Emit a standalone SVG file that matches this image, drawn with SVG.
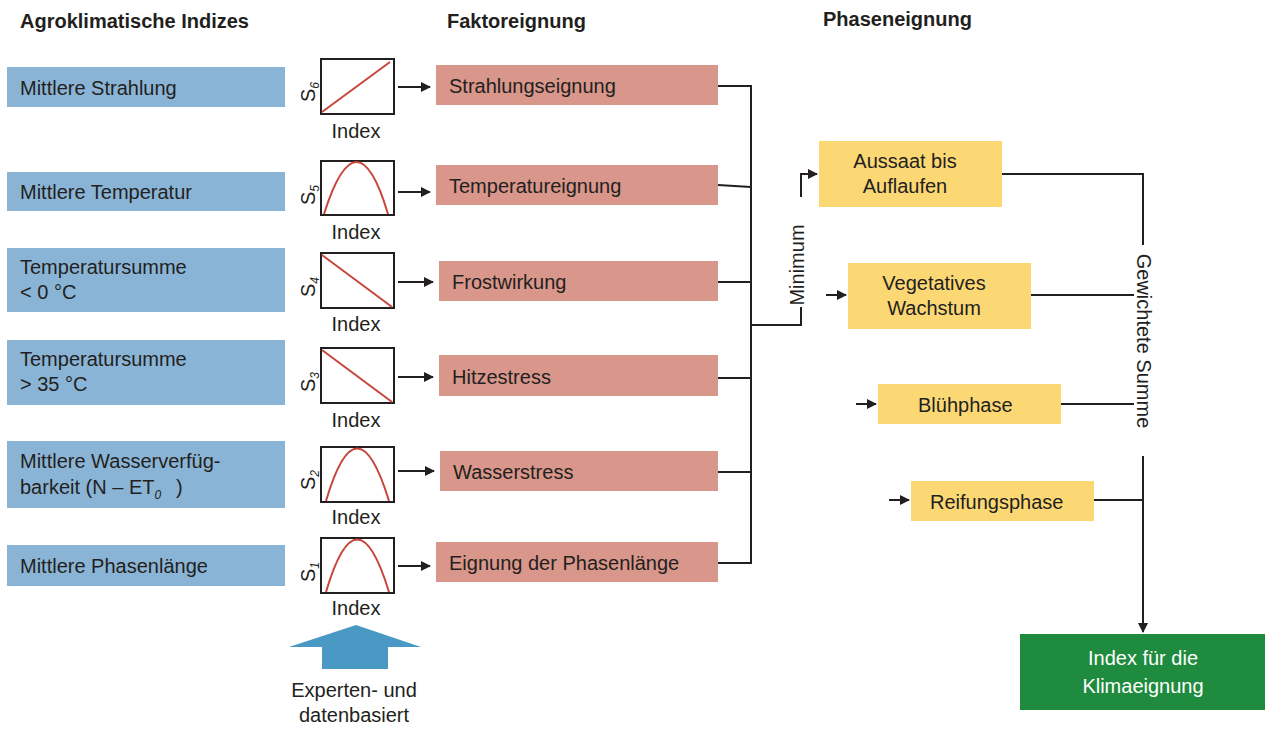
<svg xmlns="http://www.w3.org/2000/svg" width="1265" height="729" viewBox="0 0 1265 729">
<style>
text{font-family:"Liberation Sans",Arial,sans-serif;fill:#231f20;font-size:20px}
.h{font-weight:bold;font-size:20px}
.blue{fill:#8ab4d6}
.red{fill:#d9968a}
.yel{fill:#fcd874}
.chart{fill:#fff;stroke:#231f20;stroke-width:2}
.curve{fill:none;stroke:#c8453a;stroke-width:2}
.ln{fill:none;stroke:#231f20;stroke-width:2}
.idx{text-anchor:middle}
.c{text-anchor:middle}
</style>
<defs>
<marker id="ah" viewBox="0 0 10 10" refX="9" refY="5" markerWidth="10" markerHeight="10" markerUnits="userSpaceOnUse" orient="auto">
<path d="M0,0 L10,5 L0,10 z" fill="#231f20"/>
</marker>
</defs>
<rect width="1265" height="729" fill="#fff"/>
<text class="h" x="20" y="28">Agroklimatische Indizes</text>
<text class="h" x="447" y="28">Faktoreignung</text>
<text class="h" x="823" y="26">Phaseneignung</text>

<g id="in1"><rect class="blue" x="7" y="67" width="278" height="40"/><text x="20" y="95">Mittlere Strahlung</text></g>
<g id="in2"><rect class="blue" x="7" y="172" width="278" height="39"/><text x="20" y="199">Mittlere Temperatur</text></g>
<g id="in3"><rect class="blue" x="7" y="248" width="278" height="64"/><text x="20" y="274">Temperatursumme</text><text x="20" y="299">&lt; 0 °C</text></g>
<g id="in4"><rect class="blue" x="7" y="340" width="278" height="65"/><text x="20" y="366">Temperatursumme</text><text x="20" y="391">&gt; 35 °C</text></g>
<g id="in5"><rect class="blue" x="7" y="441" width="278" height="67"/><text x="20" y="468">Mittlere Wasserverfüg-</text><text x="20" y="494">barkeit (N – ET<tspan font-size="12" font-style="italic" dy="5">0</tspan><tspan x="176" dy="-5">)</tspan></text></g>
<g id="in6"><rect class="blue" x="7" y="545" width="278" height="41"/><text x="20" y="573">Mittlere Phasenlänge</text></g>

<g id="ch6"><rect class="chart" x="321" y="59" width="73" height="55"/><path class="curve" d="M322,112 Q360,84 390,62"/><text transform="translate(315,102) rotate(-90)" font-size="21">S<tspan font-size="12" font-style="italic" dy="4">6</tspan></text><text class="idx" x="356" y="138">Index</text></g>
<g id="ch5"><rect class="chart" x="321" y="161" width="73" height="54"/><path class="curve" d="M324,214 Q357,110 388,214"/><text transform="translate(315,205) rotate(-90)" font-size="21">S<tspan font-size="12" font-style="italic" dy="4">5</tspan></text><text class="idx" x="356" y="239">Index</text></g>
<g id="ch4"><rect class="chart" x="321" y="253" width="73" height="55"/><path class="curve" d="M322,255 L392,307"/><text transform="translate(315,297) rotate(-90)" font-size="21">S<tspan font-size="12" font-style="italic" dy="4">4</tspan></text><text class="idx" x="356" y="331">Index</text></g>
<g id="ch3"><rect class="chart" x="321" y="348" width="73" height="55"/><path class="curve" d="M322,350 L392,402"/><text transform="translate(315,392) rotate(-90)" font-size="21">S<tspan font-size="12" font-style="italic" dy="4">3</tspan></text><text class="idx" x="356" y="427">Index</text></g>
<g id="ch2"><rect class="chart" x="321" y="447" width="73" height="55"/><path class="curve" d="M326,501 Q357,396 389,501"/><text transform="translate(315,490) rotate(-90)" font-size="21">S<tspan font-size="12" font-style="italic" dy="4">2</tspan></text><text class="idx" x="356" y="524">Index</text></g>
<g id="ch1"><rect class="chart" x="321" y="538" width="73" height="55"/><path class="curve" d="M326,592 Q357,487 389,592"/><text transform="translate(315,582) rotate(-90)" font-size="21">S<tspan font-size="12" font-style="italic" dy="4">1</tspan></text><text class="idx" x="356" y="615">Index</text></g>

<g id="f1"><rect class="red" x="436" y="65" width="282" height="40"/><text x="449" y="93">Strahlungseignung</text></g>
<g id="f2"><rect class="red" x="436" y="165" width="282" height="40"/><text x="449" y="193">Temperatureignung</text></g>
<g id="f3"><rect class="red" x="439" y="261" width="279" height="40"/><text x="452" y="289">Frostwirkung</text></g>
<g id="f4"><rect class="red" x="439" y="355" width="279" height="41"/><text x="452" y="384">Hitzestress</text></g>
<g id="f5"><rect class="red" x="440" y="451" width="278" height="40"/><text x="453" y="479">Wasserstress</text></g>
<g id="f6"><rect class="red" x="436" y="542" width="282" height="40"/><text x="449" y="570">Eignung der Phasenlänge</text></g>

<g id="p1"><rect class="yel" x="819" y="141" width="183" height="66"/><text class="c" x="905" y="168">Aussaat bis</text><text class="c" x="905" y="193">Auflaufen</text></g>
<g id="p2"><rect class="yel" x="848" y="263" width="183" height="66"/><text class="c" x="934" y="290">Vegetatives</text><text class="c" x="934" y="315">Wachstum</text></g>
<g id="p3"><rect class="yel" x="878" y="384" width="183" height="40"/><text x="918" y="412">Blühphase</text></g>
<g id="p4"><rect class="yel" x="911" y="481" width="183" height="40"/><text x="930" y="509">Reifungsphase</text></g>

<g id="out"><rect x="1020" y="634" width="245" height="76" fill="#1e8b3e"/><text class="c" x="1143" y="665" style="fill:#fff">Index für die</text><text class="c" x="1143" y="693" style="fill:#fff">Klimaeignung</text></g>

<g id="src"><polygon points="356,625 421,647 388,647 388,669 322,669 322,647 289,647" fill="#4a99c4"/><text class="c" x="354" y="697">Experten- und</text><text class="c" x="354" y="722">datenbasiert</text></g>

<g id="connectors">
<path class="ln" d="M398,87 H430" marker-end="url(#ah)"/>
<path class="ln" d="M398,192 H430" marker-end="url(#ah)"/>
<path class="ln" d="M398,282 H433" marker-end="url(#ah)"/>
<path class="ln" d="M398,377 H433" marker-end="url(#ah)"/>
<path class="ln" d="M398,471 H434" marker-end="url(#ah)"/>
<path class="ln" d="M398,566 H430" marker-end="url(#ah)"/>
<path class="ln" d="M718,86 H751 M718,185 L751,187 M718,282 H751 M718,378 H751 M718,472 H751 M718,563 H751 M751,85 V564"/>
<path class="ln" d="M751,325 H801 V307"/>
<text transform="translate(804,265) rotate(-90)" text-anchor="middle">Minimum</text>
<path class="ln" d="M801,197 V174 H817" marker-end="url(#ah)"/>
<path class="ln" d="M826,295 H846" marker-end="url(#ah)"/>
<path class="ln" d="M856,404 H876" marker-end="url(#ah)"/>
<path class="ln" d="M889,500 H909" marker-end="url(#ah)"/>
<path class="ln" d="M1002,174 H1143 V245"/>
<text transform="translate(1137,341) rotate(90)" text-anchor="middle">Gewichtete Summe</text>
<path class="ln" d="M1031,295 H1134 M1061,404 H1134 M1094,500 H1143"/>
<path class="ln" d="M1143,456 V632" marker-end="url(#ah)"/>
</g>
</svg>
